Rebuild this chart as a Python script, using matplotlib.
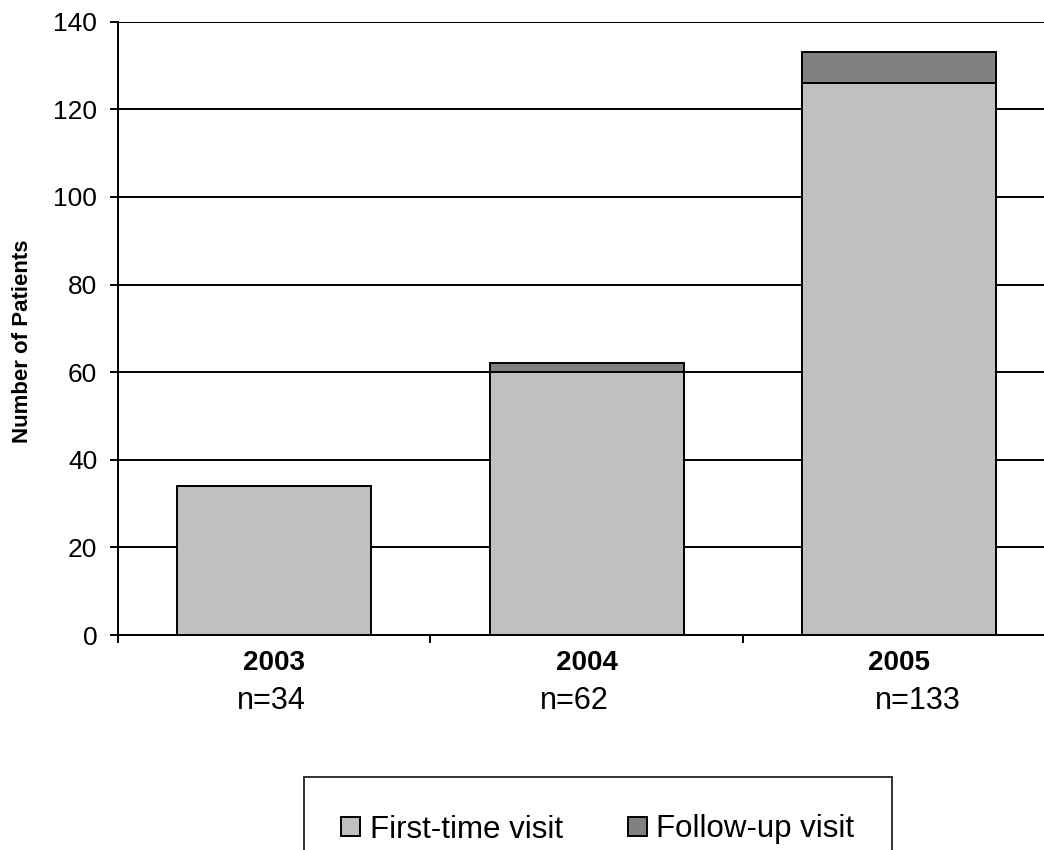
import numpy as np
import matplotlib
matplotlib.use("Agg")
import matplotlib.pyplot as plt

plt.rcParams['font.family'] = ['Liberation Sans', 'DejaVu Sans']

years = ['2003', '2004', '2005']
first_time = [34, 60, 126]
follow_up = [0, 2, 7]
totals = [f + u for f, u in zip(first_time, follow_up)]

fig = plt.figure(figsize=(10.44, 8.5), dpi=100)
ax = fig.add_axes([0.113, 0.2529, 0.898, 0.7216])

x = np.arange(len(years))
b1 = ax.bar(x, first_time, width=0.62, color='#c0c0c0', edgecolor='black',
            linewidth=1.4, zorder=3, label='First-time visit')
b2 = ax.bar(x, follow_up, width=0.62, bottom=first_time, color='#808080',
            edgecolor='black', linewidth=1.4, zorder=3, label='Follow-up visit')

ax.set_xlim(-0.5, 2.5)
ax.set_ylim(0, 140)
ax.set_yticks(np.arange(0, 141, 20))
ax.yaxis.grid(True, color='black', linewidth=1.4, zorder=0)

for s in ['top', 'right']:
    ax.spines[s].set_visible(False)
for s in ['left', 'bottom']:
    ax.spines[s].set_linewidth(1.4)
    ax.spines[s].set_zorder(4)

ax.tick_params(axis='y', direction='out', length=6, width=1.4, pad=9, labelsize=19)
ax.set_xticks(x)
ax.set_xticklabels(years, fontsize=20, fontweight='bold')
ax.tick_params(axis='x', which='major', length=0, pad=11)
ax.set_xticks(np.arange(-0.5, 3, 1), minor=True)
ax.tick_params(axis='x', which='minor', direction='out', length=6, width=1.4)

# sample sizes under each year
n_shift = [-0.01, -0.04, 0.06]
for xi, n, dx in zip(x, totals, n_shift):
    ax.text(xi + dx, -0.108, f'n={n}', transform=ax.get_xaxis_transform(),
            ha='center', va='center', fontsize=22)

fig.text(23 / 1044, 0.598, 'Number of Patients', rotation=90, ha='center',
         va='center', fontsize=16, fontweight='bold')

leg = fig.legend(handles=[b1, b2], loc='upper center', ncol=2,
                 bbox_to_anchor=(598 / 1044, 1 - 777 / 850), fontsize=22.5,
                 frameon=True, fancybox=False, edgecolor='black',
                 handlelength=0.6, handleheight=0.6, handletextpad=0.3,
                 columnspacing=2.1, borderpad=1.2, borderaxespad=0)
leg.get_frame().set_linewidth(1.4)

fig.savefig('out.png', dpi=100)
